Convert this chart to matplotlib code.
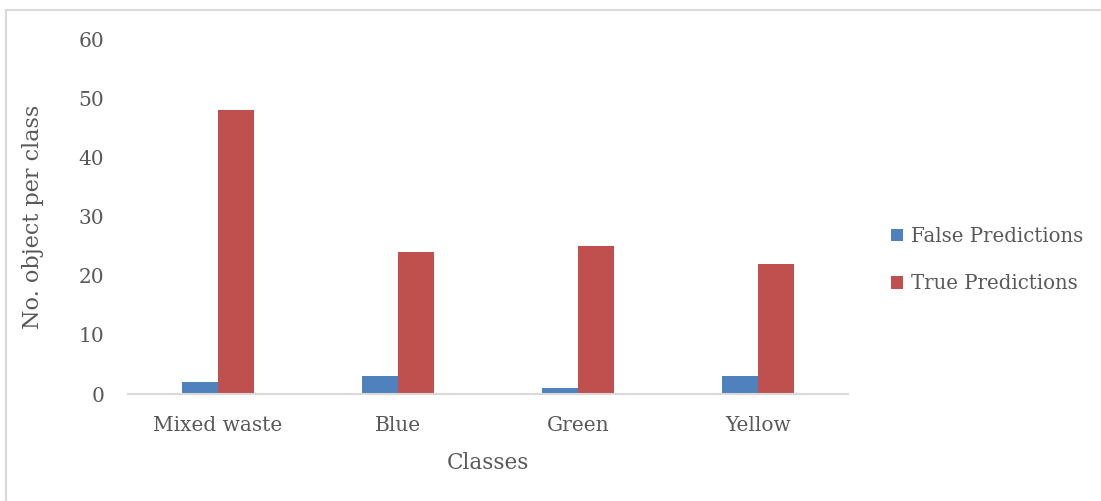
import numpy as np
import matplotlib.pyplot as plt
from matplotlib.lines import Line2D

classes = ["Mixed waste", "Blue", "Green", "Yellow"]
false_pred = [2, 3, 1, 3]
true_pred = [48, 24, 25, 22]

text_col = "#595959"
plt.rcParams['font.family'] = ['DejaVu Serif']

W, H = 1101, 501
fig = plt.figure(figsize=(W / 100, H / 100), dpi=100)
ax = fig.add_axes([128 / W, 1 - 394 / H, 720 / W, 355 / H])

x = np.arange(len(classes))
w = 0.2
ax.bar(x - w / 2, false_pred, w, color="#4F81BD", label="False Predictions")
ax.bar(x + w / 2, true_pred, w, color="#C0504D", label="True Predictions")

ax.set_xlim(-0.5, len(classes) - 0.5)
ax.set_ylim(0, 60)
ax.set_yticks(range(0, 61, 10))
ax.set_xticks(x)
ax.set_xticklabels(classes)

for s in ["top", "right", "left"]:
    ax.spines[s].set_visible(False)
ax.spines["bottom"].set_color("#D9D9D9")
ax.spines["bottom"].set_linewidth(1.5)
ax.tick_params(axis="both", length=0, labelsize=14.5, colors=text_col)
ax.tick_params(axis="y", pad=17)
ax.tick_params(axis="x", pad=16)

ax.set_xlabel("Classes", fontsize=15.5, color=text_col, labelpad=12)
ax.set_ylabel("No. object per class", fontsize=16, color=text_col, labelpad=25)

ax.legend(loc="center left", bbox_to_anchor=(1.035, 0.377), frameon=False,
          fontsize=14.2, labelcolor=text_col, handlelength=0.6, handleheight=0.6,
          handletextpad=0.4, labelspacing=1.45)

# chart area border (light gray, top and left visible)
fig.add_artist(Line2D([6.5 / W, 1], [1 - 9.5 / H, 1 - 9.5 / H], transform=fig.transFigure,
                      color="#D9D9D9", lw=1.5))
fig.add_artist(Line2D([6.5 / W, 6.5 / W], [0, 1 - 9.5 / H], transform=fig.transFigure,
                      color="#D9D9D9", lw=1.5))

fig.savefig("out.png", dpi=100)
